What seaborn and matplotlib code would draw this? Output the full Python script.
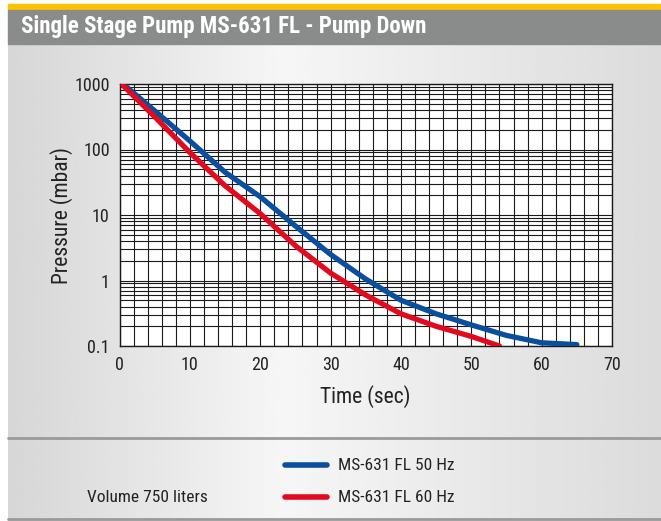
import numpy as np
import pandas as pd
import matplotlib
matplotlib.use("Agg")
import matplotlib.pyplot as plt
from matplotlib.patches import Rectangle
from matplotlib.lines import Line2D
from matplotlib.ticker import LogLocator, MultipleLocator, FixedLocator, NullFormatter
import seaborn as sns

# Datos
tiempo_50 = [1, 5, 10, 15, 20, 25, 30, 35, 40, 45, 50, 55, 60, 65]
presion_50 = [900, 390, 135, 45, 19, 6.8, 2.5, 1.05, 0.5, 0.31, 0.21, 0.145, 0.112, 0.105]
tiempo_60 = [0.5, 5, 10, 15, 20, 25, 30, 35, 40, 45, 50, 54]
presion_60 = [950, 316, 90, 28, 10.5, 3.4, 1.3, 0.6, 0.31, 0.2, 0.14, 0.1]
series = ["MS-631 FL 50 Hz", "MS-631 FL 60 Hz"]
colores = ["#0a4f9e", "#e30a1e"]
x_ticks = [0, 10, 20, 30, 40, 50, 60, 70]
y_ticks = [0.1, 1, 10, 100, 1000]
y_tick_labels = ["0.1", "1", "10", "100", "1000"]

df = pd.concat([
    pd.DataFrame({"Tiempo": tiempo_50, "Presion": presion_50, "Serie": series[0]}),
    pd.DataFrame({"Tiempo": tiempo_60, "Presion": presion_60, "Serie": series[1]}),
])

sns.set_style("white")
plt.rcParams["font.family"] = ["Roboto Condensed", "Roboto", "DejaVu Sans"]
plt.rcParams["font.stretch"] = "condensed"

W, H = 661, 521
fig = plt.figure(figsize=(W / 100, H / 100), dpi=100)

# Fondo con degradado
bg = fig.add_axes([8 / W, 0, 1 - 8 / W, 1 - 4 / H])
bg.set_axis_off()
grad = np.interp(np.linspace(0, 1, 300), [0, 0.42, 1], [0.84, 0.965, 0.86])
bg.imshow(np.tile(grad, (2, 1)), cmap="gray", vmin=0, vmax=1, aspect="auto",
          extent=[0, 1, 0, 1])
bg.set_xlim(0, 1)
bg.set_ylim(0, 1)

fig.patches.append(Rectangle((8 / W, 1 - 9.5 / H), 1, 5.5 / H, transform=fig.transFigure,
                             color="#fdc300", zorder=2))
fig.patches.append(Rectangle((8 / W, 1 - 44 / H), 1, 34 / H, transform=fig.transFigure,
                             color="#8a8c8c", zorder=2))
fig.text(21 / W, 1 - 27 / H, "Single Stage Pump MS-631 FL - Pump Down", color="white",
         fontsize=16.5, fontweight="bold", va="center", ha="left", zorder=3)
fig.lines.append(Line2D([8 / W, 1], [1 - 438 / H, 1 - 438 / H], transform=fig.transFigure,
                        color="#9a9a9a", lw=2))
fig.lines.append(Line2D([8 / W, 1], [1 - 519 / H, 1 - 519 / H], transform=fig.transFigure,
                        color="#9a9a9a", lw=2))

# Grafico principal
x0, x1, y0, y1 = 119.5, 612, 84, 346
ax = fig.add_axes([x0 / W, 1 - y1 / H, (x1 - x0) / W, (y1 - y0) / H])
ax.set_facecolor("white")
sns.lineplot(data=df, x="Tiempo", y="Presion", hue="Serie", palette=colores,
             linewidth=3.8, legend=False, ax=ax, zorder=5)
ax.set_yscale("log")
ax.set_xlim(0, 70)
ax.set_ylim(0.1, 1000)
ax.xaxis.set_major_locator(FixedLocator(x_ticks))
ax.xaxis.set_minor_locator(MultipleLocator(2))
ax.yaxis.set_major_locator(FixedLocator(y_ticks))
ax.set_yticklabels(y_tick_labels)
ax.yaxis.set_minor_locator(LogLocator(base=10, subs=np.arange(2, 10)))
ax.yaxis.set_minor_formatter(NullFormatter())
ax.grid(which="both", color="#1a1a1a", lw=0.8)
ax.tick_params(which="major", direction="out", length=4, width=1, color="#222222",
               labelsize=13, labelcolor="#222222", pad=3)
ax.tick_params(which="minor", length=0)
for s in ax.spines.values():
    s.set_color("#1a1a1a")
    s.set_linewidth(1)
ax.set_xlabel("Time (sec)", fontsize=15.5, color="#222222", va="center")
ax.set_ylabel("Pressure (mbar)", fontsize=15.5, color="#222222", va="center")
ax.xaxis.set_label_coords(0.5, -(397 - y1) / (y1 - y0))
ax.yaxis.set_label_coords(-(x0 - 62) / (x1 - x0), 0.5)

# Leyenda
for i, (nombre, c) in enumerate(zip(series, colores)):
    yy = 1 - (465 + 32 * i) / H
    fig.lines.append(Line2D([285 / W, 327 / W], [yy, yy], transform=fig.transFigure,
                            color=c, lw=4))
    fig.text(338 / W, yy, nombre, fontsize=12.5, color="#222222", va="center")
fig.text(87 / W, 1 - 497 / H, "Volume 750 liters", fontsize=12.5, color="#222222",
         va="center")

plt.savefig("out.png", dpi=100)
plt.close()
